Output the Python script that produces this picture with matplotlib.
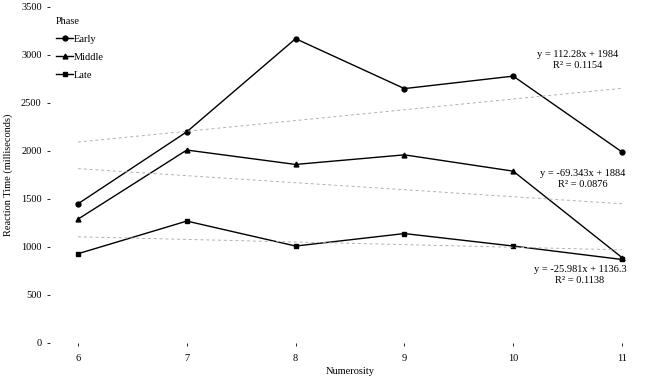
import matplotlib
matplotlib.use("Agg")
import matplotlib.pyplot as plt
import numpy as np

plt.rcParams['font.family'] = ['Liberation Serif', 'DejaVu Serif']

numerosity = [6, 7, 8, 9, 10, 11]
early = [1450, 2200, 3170, 2650, 2780, 1990]
middle = [1290, 2010, 1860, 1960, 1790, 890]
late = [930, 1270, 1010, 1140, 1010, 870]
series_names = ["Early", "Middle", "Late"]
trend_labels = [("y = 112.28x + 1984", "R² = 0.1154"),
                ("y = -69.343x + 1884", "R² = 0.0876"),
                ("y = -25.981x + 1136.3", "R² = 0.1138")]
y_ticks = [0, 500, 1000, 1500, 2000, 2500, 3000, 3500]

fig = plt.figure(figsize=(6.57, 3.86), dpi=100)
L, R = 50, 650
x6, x11 = 78, 622
ppu = (x11 - x6) / 5
xl = 6 - (x6 - L) / ppu
xr = 11 + (R - x11) / ppu
ax = fig.add_axes([L / 657, (386 - 343) / 386, (R - L) / 657, (343 - 7) / 386])
ax.set_xlim(xl, xr)
ax.set_ylim(0, 3500)

markers = ['o', '^', 's']
idx = np.arange(1, 7)
for vals, name, m in zip([early, middle, late], series_names, markers):
    ax.plot(numerosity, vals, color='black', lw=1.0, marker=m, ms=3.5, label=name)
    a, b = np.polyfit(idx, vals, 1)
    ax.plot([6, 11], [a * 1 + b, a * 6 + b], color='#b0b0b0', lw=0.7, ls=(0, (3, 3)))

pos = [(578, 60), (583, 179), (580, 275)]
for (l1, l2), (px, py) in zip(trend_labels, pos):
    xd = xl + (px - L) / ppu
    yd = (343 - py) / 336 * 3500
    ax.text(xd, yd, l1 + "\n" + l2, ha='center', va='center', fontsize=7.5, linespacing=1.15)

for s in ax.spines.values():
    s.set_visible(False)
ax.set_xticks(numerosity)
ax.set_yticks(y_ticks)
ax.tick_params(axis='x', labelsize=7.5, length=2, width=0.6, pad=6)
ax.tick_params(axis='y', labelsize=7.5, length=2, width=0.6, pad=4)
ax.set_xlabel("Numerosity", fontsize=7.5, labelpad=3)
ax.set_ylabel("Reaction Time (milliseconds)", fontsize=7.5, labelpad=6)

leg = ax.legend(title="Phase", loc='upper left', bbox_to_anchor=(0.0, 0.99), frameon=False,
                fontsize=7.5, title_fontsize=7.5, handlelength=1.6, handletextpad=0.1,
                labelspacing=0.85, borderaxespad=0.2)
leg._legend_box.align = "left"

fig.savefig("out.png", dpi=100)
